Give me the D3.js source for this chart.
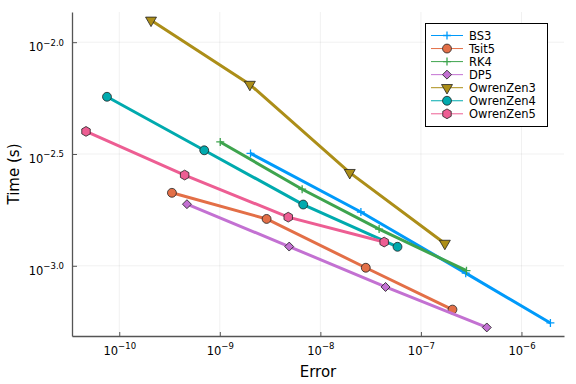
<!DOCTYPE html>
<html>
<head>
<meta charset="utf-8">
<script src="https://cdn.jsdelivr.net/npm/d3@7"></script>
<style>
  body { margin: 0; background: #fff; }
  svg { display: block; font-family: "DejaVu Sans", sans-serif; }
</style>
</head>
<body>
<div id="chart"></div>
<script>
// work-precision data (error, time in seconds)
const names = ["BS3", "Tsit5", "RK4", "DP5", "OwrenZen3", "OwrenZen4", "OwrenZen5"]
const markers = ["cross", "circle", "cross", "diamond", "triangle", "circle", "hexagon"]
const colors = ["#009afa", "#e36f47", "#3ea44e", "#c371d2", "#ac8e18", "#00aaae", "#ed5e93"]

const errBS3 = [2.02e-9, 2.53e-8, 2.79e-7, 1.94e-6]
const timeBS3 = [3.18e-3, 1.74e-3, 9.27e-4, 5.55e-4]
const errTsit5 = [3.34e-10, 2.92e-9, 2.83e-8, 2.06e-7]
const timeTsit5 = [2.12e-3, 1.62e-3, 9.80e-4, 6.37e-4]
const errRK4 = [1.01e-9, 6.59e-9, 3.84e-8, 2.84e-7]
const timeRK4 = [3.58e-3, 2.20e-3, 1.459e-3, 9.51e-4]
const errDP5 = [4.71e-10, 4.90e-9, 4.45e-8, 4.52e-7]
const timeDP5 = [1.886e-3, 1.219e-3, 8.04e-4, 5.30e-4]
const errOZ3 = [2.07e-10, 1.99e-9, 1.96e-8, 1.73e-7]
const timeOZ3 = [1.253e-2, 6.47e-3, 2.61e-3, 1.259e-3]
const errOZ4 = [7.55e-11, 7.00e-10, 6.75e-9, 5.85e-8]
const timeOZ4 = [5.70e-3, 3.285e-3, 1.879e-3, 1.216e-3]
const errOZ5 = [4.67e-11, 4.47e-10, 4.79e-9, 4.31e-8]
const timeOZ5 = [3.99e-3, 2.546e-3, 1.650e-3, 1.277e-3]

const xTickExp = [-10, -9, -8, -7, -6]
const yTickExp = [-2.0, -2.5, -3.0]

const errs = [errBS3, errTsit5, errRK4, errDP5, errOZ3, errOZ4, errOZ5]
const times = [timeBS3, timeTsit5, timeRK4, timeDP5, timeOZ3, timeOZ4, timeOZ5]
const series = names.map((n, i) => ({
    name: n, marker: markers[i], color: colors[i],
    points: errs[i].map((e, j) => ({ x: e, y: times[i][j] }))
}))

const width = 576
const height = 384
const margin = { top: 12, right: 12, bottom: 48, left: 72 }

const svg = d3.select("#chart").append("svg")
    .attr("width", width)
    .attr("height", height)

const x = d3.scaleLog()
    .domain([Math.pow(10, -10.47), Math.pow(10, -5.577)])
    .range([margin.left, width - margin.right])

const y = d3.scaleLog()
    .domain([Math.pow(10, -3.314), Math.pow(10, -1.865)])
    .range([height - margin.bottom, margin.top])

// grid
svg.append("g").selectAll("line")
    .data(xTickExp)
    .join("line")
    .attr("x1", d => x(Math.pow(10, d))).attr("x2", d => x(Math.pow(10, d)))
    .attr("y1", margin.top).attr("y2", height - margin.bottom)
    .attr("stroke", "#000").attr("stroke-opacity", 0.1).attr("stroke-width", 0.6)

svg.append("g").selectAll("line")
    .data(yTickExp)
    .join("line")
    .attr("y1", d => y(Math.pow(10, d))).attr("y2", d => y(Math.pow(10, d)))
    .attr("x1", margin.left).attr("x2", width - margin.right)
    .attr("stroke", "#000").attr("stroke-opacity", 0.1).attr("stroke-width", 0.6)

function supLabel(sel, exp) {
    sel.text(null)
    sel.append("tspan").style("font-size", "11.5px").text("10")
    sel.append("tspan").attr("dy", "-0.7em").style("font-size", "8.5px").text(exp)
}

const xAxis = svg.append("g")
    .attr("transform", `translate(0,${height - margin.bottom})`)
    .call(d3.axisBottom(x)
        .tickValues(xTickExp.map(e => Math.pow(10, e)))
        .tickSizeInner(-4).tickSizeOuter(0).tickPadding(8))
xAxis.attr("font-family", null).attr("font-size", null)
xAxis.select(".domain").attr("stroke", "#555").attr("stroke-width", 1.3)
xAxis.selectAll(".tick line").attr("stroke", "#555")
xAxis.selectAll(".tick text")
    .attr("fill", "#000").attr("y", 19).attr("dy", null)
    .each(function(d, i) { supLabel(d3.select(this), "\u2212" + Math.abs(xTickExp[i])) })

const yAxis = svg.append("g")
    .attr("transform", `translate(${margin.left},0)`)
    .call(d3.axisLeft(y)
        .tickValues(yTickExp.map(e => Math.pow(10, e)))
        .tickSizeInner(-5).tickSizeOuter(0).tickPadding(8))
yAxis.attr("font-family", null).attr("font-size", null)
yAxis.select(".domain").attr("stroke", "#555").attr("stroke-width", 1.3)
yAxis.selectAll(".tick line").attr("stroke", "#555")
yAxis.selectAll(".tick text")
    .attr("fill", "#000").attr("dy", "0.55em")
    .each(function(d, i) { supLabel(d3.select(this), "\u2212" + Math.abs(yTickExp[i]).toFixed(1)) })

svg.append("text")
    .attr("x", (margin.left + width - margin.right) / 2)
    .attr("y", 377)
    .attr("text-anchor", "middle")
    .attr("font-size", "15px")
    .text("Error")

svg.append("text")
    .attr("transform", `translate(19,${(margin.top + height - margin.bottom) / 2}) rotate(-90)`)
    .attr("text-anchor", "middle")
    .attr("font-size", "15px")
    .text("Time (s)")

const line = d3.line().x(d => x(d.x)).y(d => y(d.y))

function drawMarker(g, type, color, cx, cy) {
    if (type === "cross") {
        g.append("path")
            .attr("d", `M${cx - 4},${cy}H${cx + 4}M${cx},${cy - 4}V${cy + 4}`)
            .attr("stroke", color).attr("stroke-width", 1.3).attr("fill", "none")
        return
    }
    let sym
    if (type === "circle") sym = d3.symbol(d3.symbolCircle, 62)
    else if (type === "diamond") sym = d3.symbol(d3.symbolSquare, 40)
    else if (type === "triangle") sym = d3.symbol(d3.symbolTriangle, 52)
    else sym = d3.symbol(hexagon, 62)
    let rot = type === "diamond" ? 45 : type === "triangle" ? 180 : 0
    g.append("path")
        .attr("d", sym())
        .attr("transform", `translate(${cx},${cy}) rotate(${rot})`)
        .attr("fill", color).attr("stroke", "#222").attr("stroke-width", 0.8)
}

const hexagon = {
    draw(ctx, size) {
        const r = Math.sqrt(size / (1.5 * Math.sqrt(3)))
        for (let k = 0; k < 6; k++) {
            const a = Math.PI / 6 + k * Math.PI / 3
            if (k === 0) ctx.moveTo(r * Math.cos(a), r * Math.sin(a))
            else ctx.lineTo(r * Math.cos(a), r * Math.sin(a))
        }
        ctx.closePath()
    }
}

series.forEach(s => {
    const g = svg.append("g")
    g.append("path")
        .datum(s.points)
        .attr("d", line)
        .attr("fill", "none")
        .attr("stroke", s.color)
        .attr("stroke-width", 3)
    s.points.forEach(p => drawMarker(g, s.marker, s.color, x(p.x), y(p.y)))
})

// legend
const lg = svg.append("g")
lg.append("rect")
    .attr("x", 425.5).attr("y", 23.5).attr("width", 122).attr("height", 103)
    .attr("fill", "#fff").attr("stroke", "#000").attr("stroke-width", 1)
series.forEach((s, i) => {
    const ly = 35.5 + i * 13.05
    lg.append("line")
        .attr("x1", 431).attr("x2", 463).attr("y1", ly).attr("y2", ly)
        .attr("stroke", s.color).attr("stroke-width", 1)
    drawMarker(lg, s.marker, s.color, 447, ly)
    lg.append("text")
        .attr("x", 469).attr("y", ly).attr("dy", "0.36em")
        .attr("font-size", "11.5px")
        .text(s.name)
})
</script>
</body>
</html>
